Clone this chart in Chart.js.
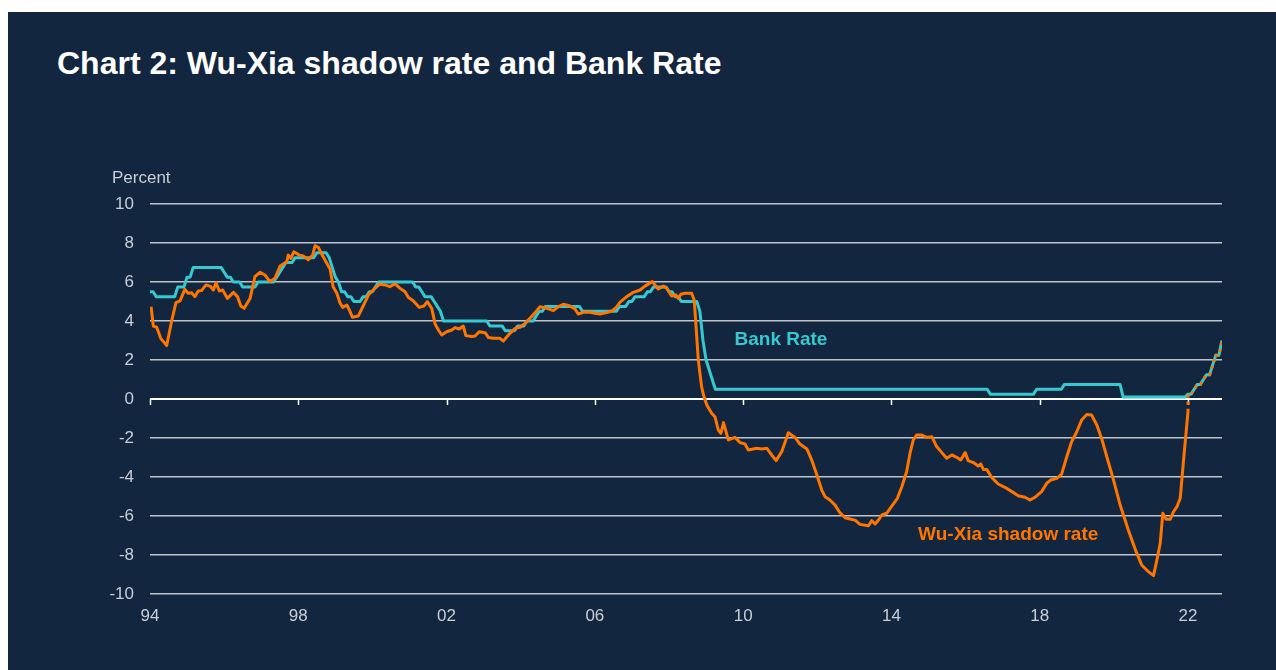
<!DOCTYPE html>
<html>
<head>
<meta charset="utf-8">
<script src="https://cdn.jsdelivr.net/npm/chart.js@4/dist/chart.umd.min.js"></script>
<style>
  html, body { margin: 0; padding: 0; background: #ffffff; }
  body { width: 1276px; height: 670px; position: relative; overflow: hidden; font-family: "Liberation Sans", Arial, sans-serif; }
  #panel { position: absolute; left: 8px; top: 12px; width: 1268px; height: 658px; background: #13263f; }
  #title { position: absolute; left: 57px; top: 46px; margin: 0; color: #ffffff; font: bold 32px "Liberation Sans", Arial, sans-serif; line-height: 34px; white-space: nowrap; }
  #wrap { position: absolute; left: 0; top: 0; width: 1276px; height: 670px; }
</style>
</head>
<body>
<div id="panel"></div>
<h1 id="title">Chart 2: Wu-Xia shadow rate and Bank Rate</h1>
<div id="wrap"><canvas id="c" width="1276" height="670"></canvas></div>
<script>
// ---- Data (decimal years) ----
const xTickYears  = [1994, 1998, 2002, 2006, 2010, 2014, 2018, 2022];
const xTickLabels = ['94', '98', '02', '06', '10', '14', '18', '22'];
const yTickValues = [-10, -8, -6, -4, -2, 0, 2, 4, 6, 8, 10];

// Bank Rate: dates of changes and the new rate
const bankChangeYears = [
  1994.0, 1994.083, 1994.667, 1994.917, 1995.083, 1995.917, 1996.0, 1996.167, 1996.417, 1996.833,
  1997.333, 1997.417, 1997.5, 1997.583, 1997.833, 1998.417, 1998.75, 1998.833, 1998.917, 1999.0,
  1999.083, 1999.25, 1999.417, 1999.667, 1999.833, 2000.0, 2000.083, 2001.083, 2001.25, 2001.333,
  2001.583, 2001.667, 2001.75, 2001.833, 2003.083, 2003.5, 2003.833, 2004.083, 2004.333, 2004.417,
  2004.583, 2005.583, 2006.583, 2006.833, 2007.0, 2007.333, 2007.5, 2007.917, 2008.083, 2008.25,
  2008.75, 2008.833, 2008.917, 2009.0, 2009.083, 2009.167, 2016.583, 2017.833, 2018.583, 2020.167,
  2021.917, 2022.083, 2022.167, 2022.333, 2022.417, 2022.583, 2022.667, 2022.833
];
const bankRates = [
  5.5, 5.25, 5.75, 6.25, 6.75, 6.5, 6.25, 6.0, 5.75, 6.0,
  6.25, 6.5, 6.75, 7.0, 7.25, 7.5, 7.25, 6.75, 6.25, 6.0,
  5.5, 5.25, 5.0, 5.25, 5.5, 5.75, 6.0, 5.75, 5.5, 5.25,
  5.0, 4.75, 4.5, 4.0, 3.75, 3.5, 3.75, 4.0, 4.25, 4.5,
  4.75, 4.5, 4.75, 5.0, 5.25, 5.5, 5.75, 5.5, 5.25, 5.0,
  4.5, 3.0, 2.0, 1.5, 1.0, 0.5, 0.25, 0.5, 0.75, 0.1,
  0.25, 0.5, 0.75, 1.0, 1.25, 1.75, 2.25, 3.0
];

// Wu-Xia shadow rate
const shadowYears = [
  1994.03, 1994.09, 1994.18, 1994.29, 1994.45, 1994.59, 1994.70, 1994.81, 1994.94, 1995.03,
  1995.12, 1995.21, 1995.30, 1995.39, 1995.51, 1995.62, 1995.71, 1995.78, 1995.87, 1995.96,
  1996.09, 1996.25, 1996.36, 1996.45, 1996.54, 1996.70, 1996.83, 1996.97, 1997.10, 1997.24,
  1997.37, 1997.51, 1997.69, 1997.73, 1997.80, 1997.88, 1998.03, 1998.14, 1998.27, 1998.39,
  1998.45, 1998.54, 1998.63, 1998.77, 1998.86, 1998.94, 1999.04, 1999.13, 1999.20, 1999.31,
  1999.38, 1999.46, 1999.62, 1999.75, 1999.89, 2000.02, 2000.19, 2000.34, 2000.47, 2000.61,
  2000.74, 2000.88, 2000.97, 2001.10, 2001.26, 2001.39, 2001.48, 2001.60, 2001.69, 2001.78,
  2001.87, 2002.00, 2002.14, 2002.23, 2002.34, 2002.45, 2002.52, 2002.68, 2002.77, 2002.88,
  2003.04, 2003.13, 2003.26, 2003.44, 2003.53, 2003.71, 2003.85, 2003.98, 2004.12, 2004.25,
  2004.39, 2004.52, 2004.66, 2004.79, 2004.88, 2005.01, 2005.15, 2005.33, 2005.47, 2005.55,
  2005.69, 2005.87, 2006.00, 2006.14, 2006.32, 2006.46, 2006.59, 2006.68, 2006.86, 2007.04,
  2007.22, 2007.35, 2007.55, 2007.62, 2007.71, 2007.85, 2007.94, 2008.07, 2008.19, 2008.25,
  2008.32, 2008.43, 2008.61, 2008.68, 2008.73, 2008.79, 2008.88, 2008.93, 2009.02, 2009.15,
  2009.24, 2009.33, 2009.40, 2009.47, 2009.60, 2009.78, 2009.92, 2010.05, 2010.14, 2010.37,
  2010.50, 2010.64, 2010.77, 2010.89, 2011.04, 2011.22, 2011.40, 2011.53, 2011.72, 2011.85,
  2011.99, 2012.12, 2012.21, 2012.34, 2012.48, 2012.61, 2012.75, 2012.88, 2013.02, 2013.15,
  2013.38, 2013.47, 2013.56, 2013.65, 2013.74, 2013.87, 2014.01, 2014.16, 2014.28, 2014.41,
  2014.50, 2014.59, 2014.68, 2014.82, 2014.95, 2015.09, 2015.22, 2015.36, 2015.49, 2015.63,
  2015.76, 2015.87, 2015.99, 2016.07, 2016.21, 2016.34, 2016.41, 2016.48, 2016.57, 2016.71,
  2016.88, 2017.06, 2017.25, 2017.42, 2017.60, 2017.74, 2017.87, 2018.05, 2018.19, 2018.30,
  2018.46, 2018.59, 2018.73, 2018.86, 2019.00, 2019.13, 2019.27, 2019.40, 2019.54, 2019.67,
  2019.81, 2019.99, 2020.17, 2020.39, 2020.60, 2020.75, 2020.93, 2021.07, 2021.17, 2021.25,
  2021.32, 2021.41, 2021.52, 2021.61, 2021.71, 2021.79, 2021.88, 2022.00
];
const shadowRates = [
  4.73, 3.74, 3.68, 3.11, 2.74, 4.05, 4.94, 5.03, 5.62, 5.42,
  5.45, 5.25, 5.54, 5.56, 5.85, 5.79, 5.59, 5.96, 5.54, 5.59,
  5.16, 5.47, 5.25, 4.77, 4.65, 5.16, 6.27, 6.50, 6.36, 6.02,
  6.19, 6.82, 7.04, 7.38, 7.21, 7.55, 7.38, 7.33, 7.14, 7.38,
  7.86, 7.78, 7.44, 6.96, 6.65, 5.76, 5.42, 4.91, 4.70, 4.82,
  4.56, 4.19, 4.26, 4.77, 5.33, 5.59, 5.88, 5.85, 5.76, 5.90,
  5.68, 5.50, 5.20, 5.04, 4.70, 4.77, 4.99, 4.65, 3.85, 3.54,
  3.28, 3.45, 3.54, 3.66, 3.59, 3.74, 3.25, 3.20, 3.23, 3.45,
  3.40, 3.15, 3.11, 3.11, 2.97, 3.37, 3.62, 3.68, 3.88, 4.14,
  4.43, 4.73, 4.68, 4.60, 4.53, 4.73, 4.86, 4.77, 4.60, 4.36,
  4.45, 4.45, 4.40, 4.36, 4.43, 4.51, 4.73, 4.97, 5.25, 5.47,
  5.59, 5.79, 6.02, 5.85, 5.64, 5.79, 5.68, 5.28, 5.33, 5.16,
  5.37, 5.42, 5.42, 5.08, 3.71, 2.00, 0.63, 0.20, -0.31, -0.73,
  -0.91, -1.59, -1.76, -1.21, -2.10, -1.97, -2.24, -2.31, -2.62, -2.53,
  -2.56, -2.53, -2.87, -3.16, -2.70, -1.73, -1.97, -2.31, -2.56, -3.13,
  -3.90, -4.67, -5.01, -5.18, -5.44, -5.83, -6.09, -6.15, -6.21, -6.43,
  -6.50, -6.24, -6.41, -6.21, -5.95, -5.86, -5.49, -5.09, -4.50, -3.73,
  -2.79, -2.10, -1.85, -1.85, -1.97, -1.93, -2.44, -2.75, -3.04, -2.87,
  -2.99, -3.13, -2.75, -3.16, -3.26, -3.44, -3.33, -3.61, -3.61, -4.03,
  -4.36, -4.53, -4.75, -4.96, -5.04, -5.18, -5.04, -4.75, -4.32, -4.15,
  -4.07, -3.85, -2.96, -2.19, -1.68, -1.08, -0.79, -0.82, -1.33, -2.02,
  -2.96, -4.15, -5.44, -6.72, -7.83, -8.51, -8.85, -9.06, -8.17, -7.40,
  -5.86, -6.17, -6.17, -5.78, -5.49, -5.09, -3.13, -0.65
];

// ---- Build point tables from the arrays ----
const bankPoints = [];
for (let i = 0; i < bankChangeYears.length; i++) {
  if (i > 0) bankPoints.push({ x: bankChangeYears[i], y: bankRates[i - 1] });
  bankPoints.push({ x: bankChangeYears[i] + (i > 0 ? 1 / 12 : 0), y: bankRates[i] });
}
const shadowPoints = shadowYears.map((x, i) => ({ x, y: shadowRates[i] }));
const lastShadow = shadowPoints[shadowPoints.length - 1];
const dottedPoints = [lastShadow].concat(bankPoints.filter(p => p.x >= lastShadow.x));

const CYAN = '#36c9d0';
const ORANGE = '#ff7500';
const LABEL = '#c9ced6';
const FONT = '"Liberation Sans", Arial, sans-serif';

const extras = {
  id: 'extras',
  beforeDatasetsDraw(chart) {
    const { ctx, chartArea, scales } = chart;
    const y0 = scales.y.getPixelForValue(0);
    ctx.save();
    ctx.strokeStyle = '#ffffff';
    ctx.lineWidth = 2;
    ctx.beginPath();
    ctx.moveTo(chartArea.left, y0);
    ctx.lineTo(chartArea.right, y0);
    ctx.stroke();
    ctx.lineWidth = 1.5;
    xTickYears.forEach(v => {
      const px = Math.round(scales.x.getPixelForValue(v)) + 0.5;
      ctx.beginPath();
      ctx.moveTo(px, y0);
      ctx.lineTo(px, y0 + 6);
      ctx.stroke();
    });
    ctx.restore();
  },
  afterDraw(chart) {
    const { ctx, scales } = chart;
    ctx.save();
    ctx.fillStyle = LABEL;
    ctx.font = '17px ' + FONT;
    ctx.textAlign = 'left';
    ctx.textBaseline = 'middle';
    ctx.fillText('Percent', 112, 178);

    ctx.font = 'bold 19px ' + FONT;
    ctx.textAlign = 'center';
    ctx.fillStyle = CYAN;
    ctx.fillText('Bank Rate', scales.x.getPixelForValue(2011.02), scales.y.getPixelForValue(3.03));
    ctx.fillStyle = ORANGE;
    ctx.fillText('Wu-Xia shadow rate', scales.x.getPixelForValue(2017.15), scales.y.getPixelForValue(-6.97));
    ctx.restore();
  }
};

new Chart(document.getElementById('c'), {
  type: 'line',
  data: {
    datasets: [
      { label: 'Wu-Xia shadow rate (post-ZLB)', data: dottedPoints, borderColor: ORANGE, borderWidth: 3,
        borderDash: [3, 4], pointRadius: 0, tension: 0, order: 0 },
      { label: 'Wu-Xia shadow rate', data: shadowPoints, borderColor: ORANGE, borderWidth: 3,
        pointRadius: 0, tension: 0, borderJoinStyle: 'round', order: 1 },
      { label: 'Bank Rate', data: bankPoints, borderColor: CYAN, borderWidth: 3,
        pointRadius: 0, tension: 0, borderJoinStyle: 'round', order: 2 }
    ]
  },
  options: {
    responsive: false,
    animation: false,
    devicePixelRatio: 1,
    layout: { padding: { top: 204, right: 54, left: 0, bottom: 0 } },
    plugins: { legend: { display: false }, tooltip: { enabled: false }, title: { display: false } },
    scales: {
      x: {
        type: 'linear', min: 1994, max: 2022.917,
        afterBuildTicks: s => { s.ticks = xTickYears.map(v => ({ value: v })); },
        afterFit: s => { s.height = 76; },
        grid: { display: false, drawTicks: false },
        border: { display: false },
        ticks: {
          color: LABEL, font: { family: FONT, size: 17 }, padding: 12,
          maxRotation: 0, autoSkip: false,
          callback: v => xTickLabels[xTickYears.indexOf(v)]
        }
      },
      y: {
        min: -10, max: 10,
        afterBuildTicks: s => { s.ticks = yTickValues.map(v => ({ value: v })); },
        afterFit: s => { s.width = 150; },
        grid: {
          drawTicks: false, lineWidth: 1.5,
          color: c => (c.tick && c.tick.value === 0) ? 'rgba(0,0,0,0)' : '#bfc3ca'
        },
        border: { display: false },
        ticks: { color: LABEL, font: { family: FONT, size: 17 }, padding: 16 }
      }
    }
  },
  plugins: [extras]
});
</script>
</body>
</html>
